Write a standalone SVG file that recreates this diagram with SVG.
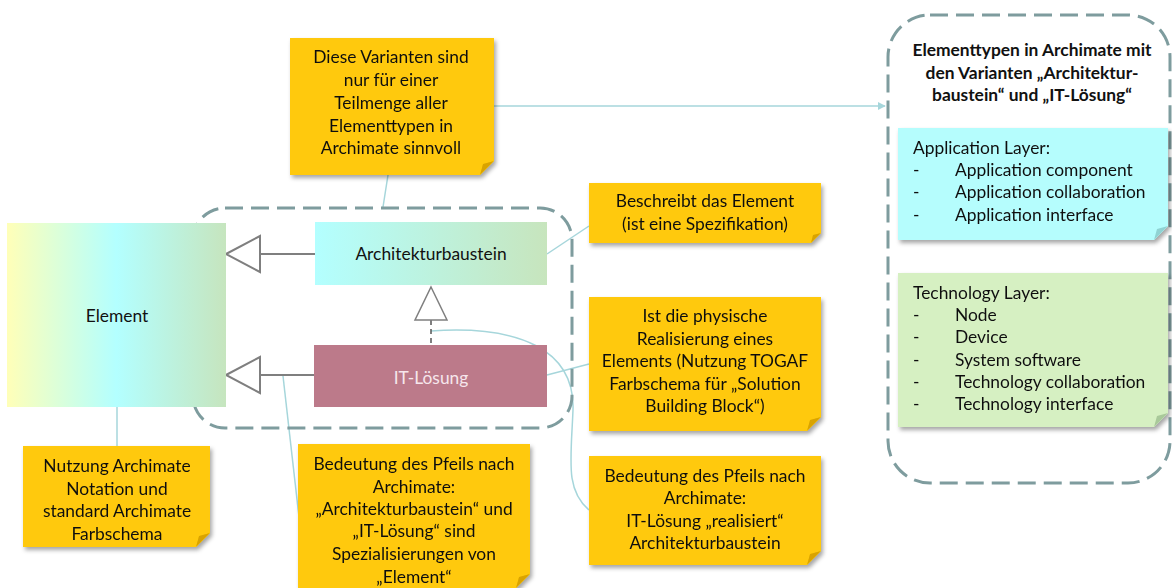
<svg xmlns="http://www.w3.org/2000/svg" width="1172" height="588" viewBox="0 0 1172 588">
<style>
.t{font-family:Lato,"Open Sans","Liberation Sans",sans-serif;font-size:17.4px;fill:#111;text-anchor:middle}
.l{text-anchor:start}
.b{font-weight:bold;font-size:17.4px}
.note{fill:#FFC90A}
.fold{fill:#D9A300}
.con{fill:none;stroke:#A6D6DB;stroke-width:1.5}
.dash{fill:none;stroke:#7E9C9E;stroke-width:3;stroke-dasharray:18 8}
.gen{fill:none;stroke:#7F7F7F;stroke-width:2}
</style>
<defs>
<linearGradient id="gEl" x1="0" y1="0" x2="1" y2="0">
<stop offset="0" stop-color="#FFFFB8"/><stop offset="0.5" stop-color="#B3FFFF"/><stop offset="1" stop-color="#C6E5BE"/>
</linearGradient>
<linearGradient id="gAb" x1="0" y1="0" x2="1" y2="0">
<stop offset="0" stop-color="#B3FFFF"/><stop offset="1" stop-color="#C7E5BD"/>
</linearGradient>
<filter id="sh" x="-5%" y="-5%" width="115%" height="120%">
<feDropShadow dx="2" dy="3" stdDeviation="2" flood-color="#000" flood-opacity="0.35"/>
</filter>
<marker id="arr" viewBox="0 0 10 10" refX="9" refY="5" markerWidth="8" markerHeight="8" markerUnits="userSpaceOnUse" orient="auto">
<path d="M0,0 L10,5 L0,10 Z" fill="#A6D6DB"/>
</marker>
</defs>

<g id="connectors">
<line class="con" x1="494" y1="106" x2="885" y2="106" marker-end="url(#arr)"/>
<line class="con" x1="388" y1="175" x2="383" y2="207"/>
<line class="con" x1="117" y1="407" x2="117" y2="446"/>
<line class="con" x1="547" y1="254" x2="589" y2="226"/>
<line class="con" x1="547" y1="375" x2="589" y2="364"/>
<line class="con" x1="283" y1="376" x2="299" y2="517"/>
<path class="con" d="M431,331 C520,325 575,350 573,410 C571,460 565,490 589,510"/>
<line x1="260" y1="254" x2="315" y2="254" stroke="#7F7F7F" stroke-width="2"/>
<path class="gen" d="M226,254 L260,236 L260,272 Z" fill="#fff"/>
<line x1="260" y1="375" x2="314" y2="375" stroke="#7F7F7F" stroke-width="2"/>
<path class="gen" d="M226,375 L260,357 L260,393 Z" fill="#fff"/>
<line x1="431" y1="320" x2="431" y2="345" stroke="#555" stroke-width="1.5" stroke-dasharray="5 4"/>
<path d="M431,287 L447,320 L415,320 Z" fill="#fff" stroke="#7F7F7F" stroke-width="1.5"/>
</g>

<g id="group-inner"><rect class="dash" x="193" y="208" width="379" height="220" rx="32"/></g>
<g id="group-outer"><rect class="dash" x="888" y="15" width="282" height="468" rx="42"/></g>

<g id="element">
<rect x="7" y="223" width="219" height="184" fill="url(#gEl)"/>
<text class="t" x="117" y="322">Element</text>
</g>
<g id="architekturbaustein">
<rect x="315" y="222" width="232" height="63" fill="url(#gAb)"/>
<text class="t" x="431" y="260">Architekturbaustein</text>
</g>
<g id="it-loesung">
<rect x="314" y="345" width="233" height="62" fill="#BC7A8A"/>
<text class="t" x="431" y="384" style="fill:#F6E6EC">IT-Lösung</text>
</g>

<g id="note-varianten" filter="url(#sh)">
<path class="note" d="M290,38 H494 V161 L480,175 H290 Z"/>
<path class="fold" d="M494,161 L480,175 L483,164 Z"/>
<text class="t" x="391" y="63">Diese Varianten sind</text>
<text class="t" x="391" y="86">nur für einer</text>
<text class="t" x="391" y="109">Teilmenge aller</text>
<text class="t" x="391" y="132">Elementtypen in</text>
<text class="t" x="391" y="154">Archimate sinnvoll</text>
</g>

<g id="note-beschreibt" filter="url(#sh)">
<path class="note" d="M589,183 H821 V233 L811,243 H589 Z"/>
<path class="fold" d="M821,233 L811,243 L813,235 Z"/>
<text class="t" x="705" y="207">Beschreibt das Element</text>
<text class="t" x="705" y="230">(ist eine Spezifikation)</text>
</g>

<g id="note-physisch" filter="url(#sh)">
<path class="note" d="M589,297 H821 V417 L807,431 H589 Z"/>
<path class="fold" d="M821,417 L807,431 L810,420 Z"/>
<text class="t" x="705" y="322">Ist die physische</text>
<text class="t" x="705" y="345">Realisierung eines</text>
<text class="t" x="705" y="367">Elements (Nutzung TOGAF</text>
<text class="t" x="705" y="390">Farbschema für „Solution</text>
<text class="t" x="705" y="412">Building Block“)</text>
</g>

<g id="note-realisiert" filter="url(#sh)">
<path class="note" d="M589,456 H821 V551 L807,565 H589 Z"/>
<path class="fold" d="M821,551 L807,565 L810,554 Z"/>
<text class="t" x="705" y="482">Bedeutung des Pfeils nach</text>
<text class="t" x="705" y="504">Archimate:</text>
<text class="t" x="705" y="527">IT-Lösung „realisiert“</text>
<text class="t" x="705" y="549">Architekturbaustein</text>
</g>

<g id="note-nutzung" filter="url(#sh)">
<path class="note" d="M23,446 H210 V533 L196,547 H23 Z"/>
<path class="fold" d="M210,533 L196,547 L199,536 Z"/>
<text class="t" x="117" y="472">Nutzung Archimate</text>
<text class="t" x="117" y="495">Notation und</text>
<text class="t" x="117" y="517">standard Archimate</text>
<text class="t" x="117" y="540">Farbschema</text>
</g>

<g id="note-spezialisierung" filter="url(#sh)">
<path class="note" d="M298,444 H530 V574 L516,588 H298 Z"/>
<path class="fold" d="M530,574 L516,588 L519,577 Z"/>
<text class="t" x="414" y="470">Bedeutung des Pfeils nach</text>
<text class="t" x="414" y="493">Archimate:</text>
<text class="t" x="414" y="515">„Architekturbaustein“ und</text>
<text class="t" x="414" y="537">„IT-Lösung“ sind</text>
<text class="t" x="414" y="560">Spezialisierungen von</text>
<text class="t" x="414" y="583">„Element“</text>
</g>

<g id="title">
<text class="t b" x="1032" y="56">Elementtypen in Archimate mit</text>
<text class="t b" x="1032" y="79">den Varianten „Architektur-</text>
<text class="t b" x="1032" y="101">baustein“ und „IT-Lösung“</text>
</g>

<g id="application-layer" filter="url(#sh)">
<path d="M898,128 H1168 V226 L1154,240 H898 Z" fill="#B5FDFD"/>
<path d="M1168,226 L1154,240 L1157,229 Z" fill="#8FD3D3"/>
<text class="t l" x="913" y="154">Application Layer:</text>
<text class="t l" x="913" y="176">-</text><text class="t l" x="955" y="176">Application component</text>
<text class="t l" x="913" y="198">-</text><text class="t l" x="955" y="198">Application collaboration</text>
<text class="t l" x="913" y="221">-</text><text class="t l" x="955" y="221">Application interface</text>
</g>

<g id="technology-layer" filter="url(#sh)">
<path d="M898,273 H1168 V413 L1154,427 H898 Z" fill="#D6F0C2"/>
<path d="M1168,413 L1154,427 L1157,416 Z" fill="#A9C99A"/>
<text class="t l" x="913" y="299">Technology Layer:</text>
<text class="t l" x="913" y="321">-</text><text class="t l" x="955" y="321">Node</text>
<text class="t l" x="913" y="343">-</text><text class="t l" x="955" y="343">Device</text>
<text class="t l" x="913" y="366">-</text><text class="t l" x="955" y="366">System software</text>
<text class="t l" x="913" y="388">-</text><text class="t l" x="955" y="388">Technology collaboration</text>
<text class="t l" x="913" y="410">-</text><text class="t l" x="955" y="410">Technology interface</text>
</g>
</svg>
